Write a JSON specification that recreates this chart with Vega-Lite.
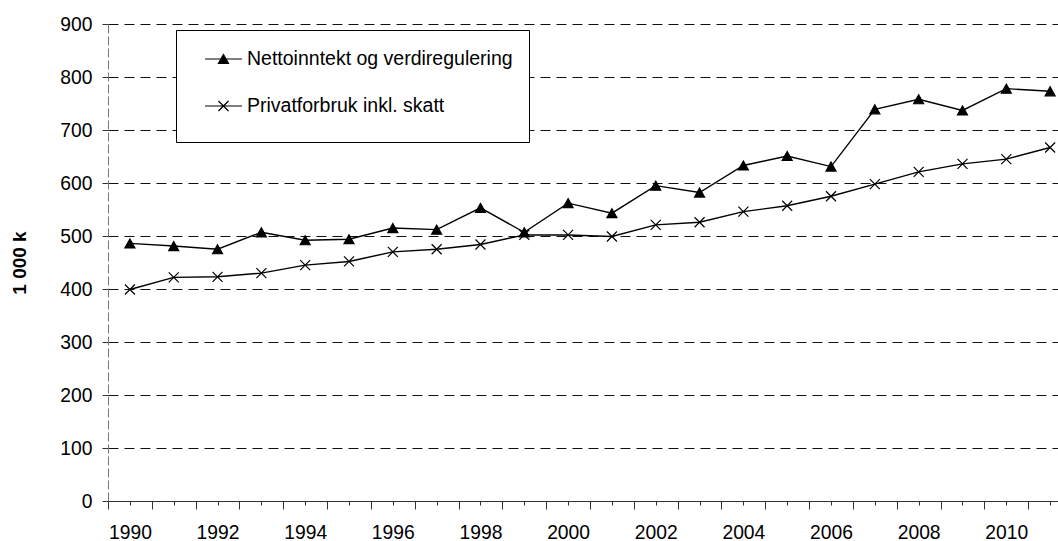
{
  "$schema": "https://vega.github.io/schema/vega-lite/v6.json",
  "width": 950,
  "height": 477,
  "autosize": {"type": "none"},
  "padding": {"left": 108, "top": 24, "right": 0, "bottom": 40},
  "background": "white",
  "config": {
    "view": {"stroke": null},
    "font": "Liberation Sans"
  },
  "data": {
    "values": [
      {"year": 1990, "series": "Nettoinntekt og verdiregulering", "value": 486},
      {"year": 1991, "series": "Nettoinntekt og verdiregulering", "value": 481},
      {"year": 1992, "series": "Nettoinntekt og verdiregulering", "value": 475},
      {"year": 1993, "series": "Nettoinntekt og verdiregulering", "value": 507},
      {"year": 1994, "series": "Nettoinntekt og verdiregulering", "value": 492},
      {"year": 1995, "series": "Nettoinntekt og verdiregulering", "value": 494},
      {"year": 1996, "series": "Nettoinntekt og verdiregulering", "value": 515},
      {"year": 1997, "series": "Nettoinntekt og verdiregulering", "value": 512},
      {"year": 1998, "series": "Nettoinntekt og verdiregulering", "value": 553},
      {"year": 1999, "series": "Nettoinntekt og verdiregulering", "value": 507},
      {"year": 2000, "series": "Nettoinntekt og verdiregulering", "value": 562},
      {"year": 2001, "series": "Nettoinntekt og verdiregulering", "value": 543},
      {"year": 2002, "series": "Nettoinntekt og verdiregulering", "value": 595},
      {"year": 2003, "series": "Nettoinntekt og verdiregulering", "value": 582},
      {"year": 2004, "series": "Nettoinntekt og verdiregulering", "value": 633},
      {"year": 2005, "series": "Nettoinntekt og verdiregulering", "value": 651},
      {"year": 2006, "series": "Nettoinntekt og verdiregulering", "value": 631},
      {"year": 2007, "series": "Nettoinntekt og verdiregulering", "value": 739},
      {"year": 2008, "series": "Nettoinntekt og verdiregulering", "value": 758},
      {"year": 2009, "series": "Nettoinntekt og verdiregulering", "value": 737},
      {"year": 2010, "series": "Nettoinntekt og verdiregulering", "value": 778},
      {"year": 2011, "series": "Nettoinntekt og verdiregulering", "value": 773},
      {"year": 1990, "series": "Privatforbruk inkl. skatt", "value": 399},
      {"year": 1991, "series": "Privatforbruk inkl. skatt", "value": 422},
      {"year": 1992, "series": "Privatforbruk inkl. skatt", "value": 423},
      {"year": 1993, "series": "Privatforbruk inkl. skatt", "value": 430},
      {"year": 1994, "series": "Privatforbruk inkl. skatt", "value": 445},
      {"year": 1995, "series": "Privatforbruk inkl. skatt", "value": 452},
      {"year": 1996, "series": "Privatforbruk inkl. skatt", "value": 470},
      {"year": 1997, "series": "Privatforbruk inkl. skatt", "value": 475},
      {"year": 1998, "series": "Privatforbruk inkl. skatt", "value": 484},
      {"year": 1999, "series": "Privatforbruk inkl. skatt", "value": 502},
      {"year": 2000, "series": "Privatforbruk inkl. skatt", "value": 502},
      {"year": 2001, "series": "Privatforbruk inkl. skatt", "value": 499},
      {"year": 2002, "series": "Privatforbruk inkl. skatt", "value": 521},
      {"year": 2003, "series": "Privatforbruk inkl. skatt", "value": 526},
      {"year": 2004, "series": "Privatforbruk inkl. skatt", "value": 546},
      {"year": 2005, "series": "Privatforbruk inkl. skatt", "value": 557},
      {"year": 2006, "series": "Privatforbruk inkl. skatt", "value": 575},
      {"year": 2007, "series": "Privatforbruk inkl. skatt", "value": 598},
      {"year": 2008, "series": "Privatforbruk inkl. skatt", "value": 621},
      {"year": 2009, "series": "Privatforbruk inkl. skatt", "value": 636},
      {"year": 2010, "series": "Privatforbruk inkl. skatt", "value": 645},
      {"year": 2011, "series": "Privatforbruk inkl. skatt", "value": 667}
    ]
  },
  "layer": [
    {
      "mark": {"type": "line", "color": "black", "strokeWidth": 1.4},
      "encoding": {
        "x": {
          "field": "year",
          "type": "quantitative",
          "scale": {"domain": [1989.5, 2011.18], "nice": false, "zero": false},
          "axis": {
            "orient": "bottom",
            "values": [1989.5, 1990.5, 1991.5, 1992.5, 1993.5, 1994.5, 1995.5, 1996.5, 1997.5, 1998.5, 1999.5, 2000.5, 2001.5, 2002.5, 2003.5, 2004.5, 2005.5, 2006.5, 2007.5, 2008.5, 2009.5, 2010.5],
            "tickSize": 8,
            "tickColor": "#333",
            "labels": false,
            "grid": false,
            "domain": true,
            "domainColor": "#333",
            "domainWidth": 1.2,
            "title": null
          }
        },
        "y": {
          "field": "value",
          "type": "quantitative",
          "scale": {"domain": [0, 900], "nice": false, "zero": true},
          "axis": {
            "values": [0, 100, 200, 300, 400, 500, 600, 700, 800, 900],
            "grid": true,
            "gridColor": "#111",
            "gridDash": [10, 6],
            "gridWidth": 1,
            "domain": true,
            "domainColor": "#777",
            "domainDash": [9, 3],
            "tickSize": 6,
            "tickColor": "#333",
            "labelFontSize": 19.3,
            "labelColor": "black",
            "labelPadding": 10,
            "labelFlush": false,
            "labelOverlap": false,
            "title": "1 000 k",
            "titleFontSize": 19,
            "titleFontWeight": "bold",
            "titleColor": "black",
            "titleX": -89,
            "titleY": 238.5,
            "titleAngle": 270,
            "titleAlign": "center",
            "titleBaseline": "middle"
          }
        },
        "detail": {"field": "series", "type": "nominal"}
      }
    },
    {
      "mark": {"type": "point", "filled": true, "size": 100, "fill": "black", "stroke": "black", "strokeWidth": 1.2, "opacity": 1},
      "encoding": {
        "x": {
          "field": "year",
          "type": "quantitative",
          "axis": {
            "orient": "bottom",
            "values": [1990, 1991, 1992, 1993, 1994, 1995, 1996, 1997, 1998, 1999, 2000, 2001, 2002, 2003, 2004, 2005, 2006, 2007, 2008, 2009, 2010, 2011],
            "format": "d",
            "labelExpr": "datum.value % 2 === 0 ? datum.label : ''",
            "tickSize": 4,
            "tickColor": "#333",
            "domain": false,
            "grid": false,
            "title": null,
            "labelFontSize": 19.3,
            "labelColor": "black",
            "labelPadding": 18,
            "labelFlush": false,
            "labelOverlap": false
          }
        },
        "y": {"field": "value", "type": "quantitative"},
        "shape": {
          "field": "series",
          "type": "nominal",
          "scale": {
            "domain": ["Nettoinntekt og verdiregulering", "Privatforbruk inkl. skatt"],
            "range": ["M0,-0.9L1,0.9L-1,0.9Z", "M-1,-1L1,1M-1,1L1,-1"]
          },
          "legend": null
        }
      }
    },
    {
      "transform": [{"filter": "datum.value < 0"}],
      "mark": {"type": "point", "filled": true, "size": 576, "fill": "black", "stroke": "black", "strokeWidth": 1.2, "opacity": 1},
      "encoding": {
        "shape": {
          "field": "series",
          "type": "nominal",
          "scale": {
            "domain": ["Nettoinntekt og verdiregulering", "Privatforbruk inkl. skatt"],
            "range": ["M0,0L3.08,0M1.54,-0.375L1.96,0.375L1.12,0.375Z", "M0,0L3.08,0M1.12,-0.42L1.96,0.42M1.12,0.42L1.96,-0.42"]
          },
          "legend": {
            "orient": "none",
            "legendX": 68,
            "legendY": 6,
            "direction": "vertical",
            "padding": 16,
            "strokeColor": "black",
            "fillColor": "white",
            "symbolSize": 576,
            "symbolStrokeWidth": 1.2,
            "rowPadding": 24,
            "labelOffset": 29,
            "labelFontSize": 19.5,
            "labelColor": "black",
            "labelLimit": 1000,
            "title": "\u00a0",
            "titleOrient": "bottom",
            "titleFontSize": 10,
            "titlePadding": 0,
            "encode": {
              "symbols": {
                "fill": {"value": "black"},
                "stroke": {"value": "black"},
                "strokeWidth": {"value": 1.2},
                "opacity": {"value": 1}
              }
            }
          }
        }
      }
    }
  ],
  "resolve": {
    "axis": {"x": "independent"},
    "scale": {"shape": "independent"},
    "legend": {"shape": "independent"}
  }
}
